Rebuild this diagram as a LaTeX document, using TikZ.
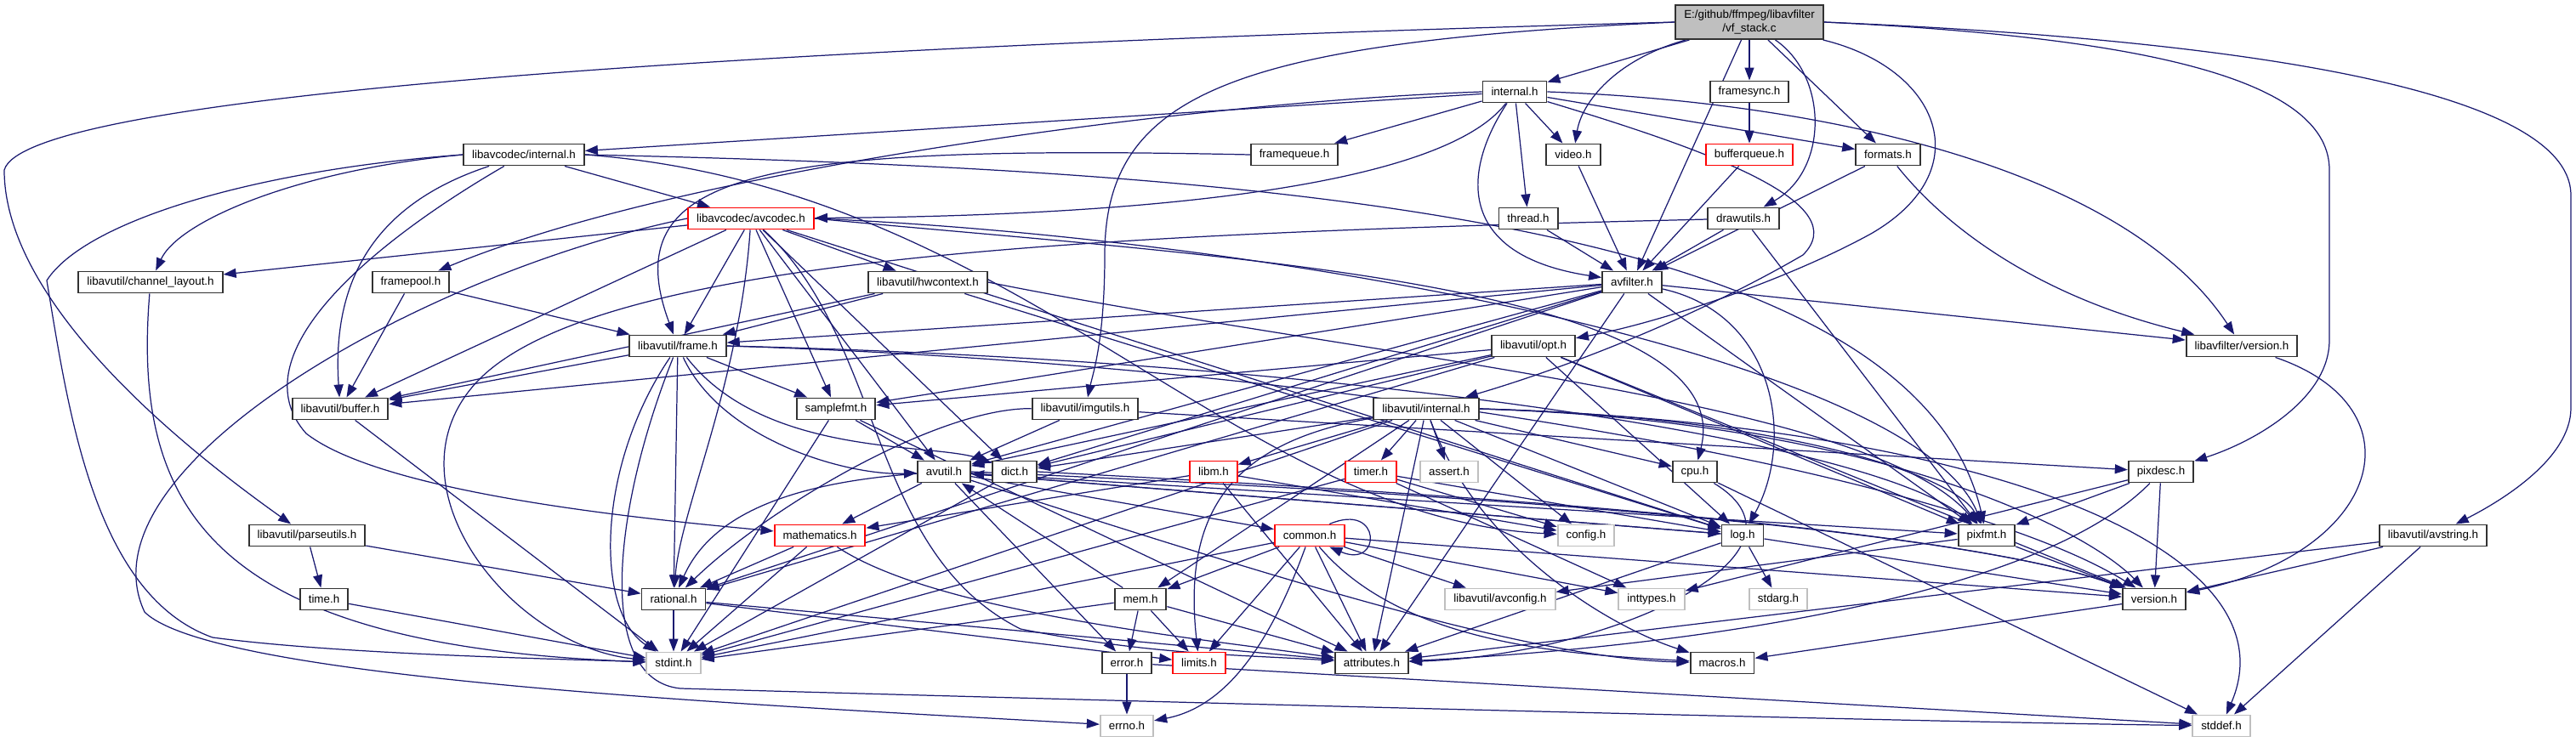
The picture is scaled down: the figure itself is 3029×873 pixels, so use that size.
\documentclass[tikz,border=0pt]{standalone}
\usepackage{fontspec}
\setmainfont{Liberation Sans}
\usetikzlibrary{arrows.meta,backgrounds}
\definecolor{edgeblue}{RGB}{25,25,112}
\definecolor{rootfill}{RGB}{191,191,191}
\definecolor{boxline}{RGB}{50,50,50}
\definecolor{truncline}{RGB}{255,0,0}
\definecolor{sysline}{RGB}{191,191,191}

\begin{document}
\begin{tikzpicture}[x=0.01cm, y=-0.01cm,
    hdr/.style={draw=boxline, fill=white, line width=0.55pt, minimum height=0.25cm,
                inner xsep=0.1cm, inner ysep=0pt, font=\fontsize{3.8}{4.5}\selectfont},
    root/.style={hdr, fill=rootfill, minimum width=1.69cm, minimum height=0.4cm, align=center},
    trunc/.style={hdr, draw=truncline},
    sys/.style={hdr, draw=sysline},
    arr/.style={-{Triangle[length=0.15cm,width=0.11cm]}, line width=0.35pt, draw=edgeblue}
]
\useasboundingbox (0,0) rectangle (3029,873);

\node[root] (main) at (2057,26) {E:/github/ffmpeg/libavfilter\\/vf\_stack.c};
\node[hdr] (lfinternal) at (1781,108) {internal.h};
\node[hdr] (framesync) at (2057,108) {framesync.h};
\node[hdr] (lcinternal) at (616,182) {libavcodec/internal.h};
\node[hdr] (framequeue) at (1522,182) {framequeue.h};
\node[hdr] (video) at (1850,182) {video.h};
\node[trunc] (bufferqueue) at (2057,182) {bufferqueue.h};
\node[hdr] (formats) at (2220,182) {formats.h};
\node[trunc] (avcodec) at (883,257) {libavcodec/avcodec.h};
\node[hdr] (thread) at (1797,257) {thread.h};
\node[hdr] (drawutils) at (2050,257) {drawutils.h};
\node[hdr] (chlayout) at (177,332) {libavutil/channel\_layout.h};
\node[hdr] (framepool) at (483,332) {framepool.h};
\node[hdr] (hwcontext) at (1091,332) {libavutil/hwcontext.h};
\node[hdr] (avfilter) at (1919,332) {avfilter.h};
\node[hdr] (frame) at (797,407) {libavutil/frame.h};
\node[hdr] (opt) at (1803,407) {libavutil/opt.h};
\node[hdr] (lfversion) at (2636,407) {libavfilter/version.h};
\node[hdr] (buffer) at (400,481) {libavutil/buffer.h};
\node[hdr] (samplefmt) at (983,481) {samplefmt.h};
\node[hdr] (imgutils) at (1276,481) {libavutil/imgutils.h};
\node[hdr] (luinternal) at (1677,481) {libavutil/internal.h};
\node[hdr] (avutil) at (1110,555) {avutil.h};
\node[hdr] (dict) at (1193,555) {dict.h};
\node[trunc] (libm) at (1427,555) {libm.h};
\node[trunc] (timer) at (1612,555) {timer.h};
\node[sys] (assert) at (1704,555) {assert.h};
\node[hdr] (cpu) at (1993,555) {cpu.h};
\node[hdr] (pixdesc) at (2541,555) {pixdesc.h};
\node[hdr] (parseutils) at (361,630) {libavutil/parseutils.h};
\node[trunc] (mathematics) at (964,630) {mathematics.h};
\node[trunc] (common) at (1540,630) {common.h};
\node[sys] (config) at (1865,630) {config.h};
\node[hdr] (log) at (2049,630) {log.h};
\node[hdr] (pixfmt) at (2336,630) {pixfmt.h};
\node[hdr] (avstring) at (2861,630) {libavutil/avstring.h};
\node[hdr] (timeh) at (381,705) {time.h};
\node[hdr] (rational) at (792,705) {rational.h};
\node[hdr] (mem) at (1341,705) {mem.h};
\node[sys] (avconfig) at (1764,705) {libavutil/avconfig.h};
\node[sys] (inttypes) at (1942,705) {inttypes.h};
\node[sys] (stdarg) at (2091,705) {stdarg.h};
\node[hdr] (version) at (2533,705) {version.h};
\node[sys] (stdint) at (792,780) {stdint.h};
\node[hdr] (error) at (1325,780) {error.h};
\node[trunc] (limits) at (1410,780) {limits.h};
\node[hdr] (attributes) at (1613,780) {attributes.h};
\node[hdr] (macros) at (2025,780) {macros.h};
\node[sys] (errno) at (1325,854) {errno.h};
\node[sys] (stddef) at (2612,854) {stddef.h};

\begin{scope}[on background layer]
% vf_stack.c
\foreach \dst in {lfinternal,framesync,avfilter,formats}
  \draw[arr] (main) -- (\dst);
\draw[arr] (main) .. controls (1900,70) and (1860,120) .. (video);
\draw[arr] (main) .. controls (2150,90) and (2150,200) .. (drawutils);
\draw[arr] (main) .. controls (2280,80) and (2330,200) .. (2200,275)
                  .. controls (2100,330) and (1950,380) .. (opt);
\draw[arr] (main.west) .. controls (900,55) and (30,110) .. (5,200)
                       .. controls (5,330) and (150,480) .. (parseutils);
\draw[arr] (main.west) .. controls (1450,50) and (1299,110) .. (1299,300)
                       .. controls (1299,400) and (1285,440) .. (imgutils);
\draw[arr] (main.east) .. controls (2550,45) and (2739,100) .. (2739,200) -- (2739,400)
                       .. controls (2739,470) and (2650,520) .. (pixdesc);
\draw[arr] (main.east) .. controls (2600,45) and (3023,100) .. (3023,230) -- (3023,480)
                       .. controls (3023,540) and (2940,590) .. (avstring);
% libavfilter/internal.h
\foreach \dst in {lcinternal,framequeue,video,thread,formats}
  \draw[arr] (lfinternal) -- (\dst);
\draw[arr] (lfinternal) .. controls (1680,240) and (1200,255) .. (avcodec);
\draw[arr] (lfinternal.west) .. controls (1400,120) and (800,200) .. (framepool);
\draw[arr] (lfinternal) .. controls (1720,200) and (1710,300) .. (avfilter);
\draw[arr] (lfinternal.east) .. controls (2150,120) and (2500,200) .. (lfversion);
\draw[arr] (lfinternal) .. controls (2020,180) and (2180,240) .. (2120,300)
                        .. controls (2000,370) and (1850,430) .. (luinternal);
\draw[arr] (framesync) -- (bufferqueue);
\foreach \src in {bufferqueue,video,formats,thread,drawutils}
  \draw[arr] (\src) -- (avfilter);
\draw[arr] (formats) .. controls (2290,270) and (2400,350) .. (lfversion);
\draw[arr] (drawutils) -- (pixfmt);
\draw[arr] (drawutils) .. controls (1300,275) and (700,300) .. (560,450)
                       .. controls (450,570) and (600,760) .. (stdint);
% libavcodec/internal.h
\draw[arr] (lcinternal) -- (avcodec);
\draw[arr] (lcinternal.west) .. controls (350,200) and (210,260) .. (chlayout);
\draw[arr] (lcinternal) .. controls (440,240) and (390,330) .. (buffer);
\draw[arr] (lcinternal) .. controls (430,290) and (280,420) .. (360,510)
                        .. controls (450,580) and (750,610) .. (mathematics);
\draw[arr] (lcinternal.east) .. controls (1500,200) and (2250,260) .. (pixfmt);
\draw[arr] (lcinternal.east) .. controls (1200,220) and (1450,610) .. (config);
\draw[arr] (lcinternal.west) .. controls (300,200) and (100,260) .. (55,330)
                             .. controls (80,480) and (110,700) .. (250,750)
                             .. controls (400,770) and (650,775) .. (stdint);
\draw[arr] (framequeue.west) .. controls (900,170) and (720,200) .. (frame);
\foreach \dst in {buffer,frame}
  \draw[arr] (framepool) -- (\dst);
% libavcodec/avcodec.h
\foreach \dst in {chlayout,buffer,frame,hwcontext,samplefmt,avutil,dict,log}
  \draw[arr] (avcodec) -- (\dst);
\draw[arr] (avcodec) .. controls (870,450) and (800,600) .. (rational);
\draw[arr] (avcodec.east) .. controls (1400,300) and (2050,330) .. (cpu);
\draw[arr] (avcodec.east) .. controls (1500,280) and (2250,420) .. (pixfmt);
\draw[arr] (avcodec) .. controls (1040,400) and (1020,650) .. (1200,740)
                     .. controls (1350,770) and (1450,770) .. (attributes);
\draw[arr] (avcodec.west) .. controls (500,320) and (90,550) .. (170,720)
                          .. controls (250,800) and (900,830) .. (errno);
\draw[arr] (chlayout) .. controls (155,600) and (250,760) .. (stdint);
% libavutil/hwcontext.h
\foreach \dst in {buffer,frame,log}
  \draw[arr] (hwcontext) -- (\dst);
\draw[arr] (hwcontext.east) .. controls (1600,420) and (2200,470) .. (pixfmt);
% avfilter.h
\foreach \dst in {attributes,avutil,buffer,dict,frame,samplefmt,pixfmt,rational,lfversion}
  \draw[arr] (avfilter) -- (\dst);
\draw[arr] (avfilter) .. controls (2090,370) and (2110,520) .. (log);
% libavutil/frame.h
\foreach \dst in {buffer,rational,samplefmt}
  \draw[arr] (frame) -- (\dst);
\draw[arr] (frame) .. controls (850,520) and (1000,560) .. (avutil);
\draw[arr] (frame) .. controls (900,540) and (1100,520) .. (dict);
\draw[arr] (frame.east) .. controls (1600,425) and (2200,520) .. (pixfmt);
\draw[arr] (frame.east) .. controls (1600,430) and (2300,560) .. (version);
\draw[arr] (frame) .. controls (700,550) and (700,720) .. (stdint);
\draw[arr] (frame) .. controls (720,600) and (700,800) .. (800,810)
                   .. controls (1500,830) and (2300,850) .. (stddef);
% libavutil/opt.h
\foreach \dst in {rational,avutil,dict,log,pixfmt,samplefmt,version}
  \draw[arr] (opt) -- (\dst);
\draw[arr] (lfversion) .. controls (2850,480) and (2800,650) .. (version);
\draw[arr] (buffer) -- (stdint);
\foreach \dst in {avutil,attributes,stdint}
  \draw[arr] (samplefmt) -- (\dst);
\foreach \dst in {avutil,pixdesc}
  \draw[arr] (imgutils) -- (\dst);
\draw[arr] (imgutils) .. controls (1100,480) and (900,600) .. (rational);
% libavutil/internal.h
\foreach \dst in {timer,assert,cpu,dict,libm,config,attributes,mem,stdint,log}
  \draw[arr] (luinternal) -- (\dst);
\draw[arr] (luinternal) .. controls (1450,520) and (1390,600) .. (limits);
\draw[arr] (luinternal) .. controls (1740,650) and (1900,740) .. (macros);
\draw[arr] (luinternal.east) .. controls (2100,490) and (2300,560) .. (pixfmt);
\draw[arr] (luinternal.east) .. controls (2200,495) and (2450,620) .. (version);
\draw[arr] (luinternal.east) .. controls (2350,500) and (2700,650) .. (stddef);
% libavutil/avutil.h
\foreach \dst in {common,error,mathematics,log,pixfmt}
  \draw[arr] (avutil) -- (\dst);
\draw[arr] (avutil) .. controls (900,570) and (830,620) .. (rational);
\draw[arr] (avutil.east) .. controls (1700,580) and (2300,620) .. (version);
\draw[arr] (avutil) .. controls (1500,680) and (1800,775) .. (macros);
\draw[arr] (dict) -- (stdint);
\draw[arr] (dict.east) .. controls (1700,580) and (2300,620) .. (version);
\foreach \dst in {config,attributes,mathematics}
  \draw[arr] (libm) -- (\dst);
\foreach \dst in {config,log,stdint,inttypes}
  \draw[arr] (timer) -- (\dst);
\draw[arr] (cpu) -- (stddef);
\draw[arr] (cpu) .. controls (2150,650) and (1900,770) .. (attributes);
\foreach \dst in {inttypes,pixfmt,version}
  \draw[arr] (pixdesc) -- (\dst);
\draw[arr] (pixdesc) .. controls (2400,700) and (2000,760) .. (attributes);
\foreach \dst in {timeh,rational}
  \draw[arr] (parseutils) -- (\dst);
\foreach \dst in {rational,stdint}
  \draw[arr] (mathematics) -- (\dst);
\draw[arr] (mathematics) .. controls (1100,720) and (1400,750) .. (attributes);
% libavutil/common.h
\draw[arr] (common.30) .. controls (1625,590) and (1625,670) .. (common.-30);
\foreach \dst in {avconfig,inttypes,attributes,mem,limits,stdint,version}
  \draw[arr] (common) -- (\dst);
\draw[arr] (common) .. controls (1500,740) and (1450,830) .. (errno);
\draw[arr] (common) .. controls (1650,760) and (1850,770) .. (macros);
\foreach \dst in {stdarg,avutil,attributes,version}
  \draw[arr] (log) -- (\dst);
\foreach \dst in {avconfig,version}
  \draw[arr] (pixfmt) -- (\dst);
\foreach \dst in {version,attributes,stddef}
  \draw[arr] (avstring) -- (\dst);
\draw[arr] (timeh) -- (stdint);
\foreach \dst in {stdint,limits,attributes}
  \draw[arr] (rational) -- (\dst);
\foreach \dst in {limits,stdint,attributes,error,avutil}
  \draw[arr] (mem) -- (\dst);
\draw[arr] (version) -- (macros);
\foreach \dst in {errno,stddef}
  \draw[arr] (error) -- (\dst);
\end{scope}
\end{tikzpicture}
\end{document}
